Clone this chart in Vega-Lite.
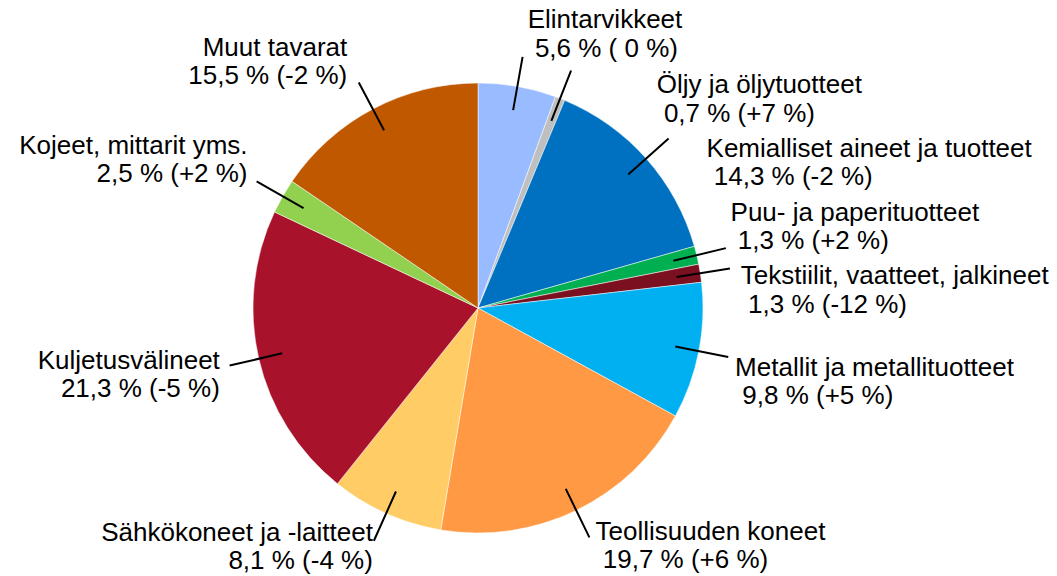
{
  "$schema": "https://vega.github.io/schema/vega-lite/v6.json",
  "width": 450,
  "height": 450,
  "autosize": {"type": "none"},
  "padding": {"left": 253, "top": 83, "right": 354, "bottom": 43},
  "background": "white",
  "config": {"view": {"stroke": null}, "text": {"fontSize": 26, "font": "Liberation Sans", "lineBreak": "\n", "lineHeight": 28.5, "color": "black", "baseline": "alphabetic"}},
  "data": {
    "values": [
      {"ord": 1, "cat": "Elintarvikkeet", "share": 5.6, "label": "Elintarvikkeet\n\u200b\u00a05,6 % ( 0 %)"},
      {"ord": 2, "cat": "Öljy ja öljytuotteet", "share": 0.7, "label": "Öljy ja öljytuotteet\n\u200b\u00a00,7 % (+7 %)"},
      {"ord": 3, "cat": "Kemialliset aineet ja tuotteet", "share": 14.3, "label": "Kemialliset aineet ja tuotteet\n\u200b\u00a014,3 % (-2 %)"},
      {"ord": 4, "cat": "Puu- ja paperituotteet", "share": 1.3, "label": "Puu- ja paperituotteet\n\u200b\u00a01,3 % (+2 %)"},
      {"ord": 5, "cat": "Tekstiilit, vaatteet, jalkineet", "share": 1.3, "label": "Tekstiilit, vaatteet, jalkineet\n\u200b\u00a01,3 % (-12 %)"},
      {"ord": 6, "cat": "Metallit ja metallituotteet", "share": 9.8, "label": "Metallit ja metallituotteet\n\u200b\u00a09,8 % (+5 %)"},
      {"ord": 7, "cat": "Teollisuuden koneet", "share": 19.7, "label": "Teollisuuden koneet\n\u200b\u00a019,7 % (+6 %)"},
      {"ord": 8, "cat": "Sähkökoneet ja -laitteet", "share": 8.1, "label": "Sähkökoneet ja -laitteet\n8,1 % (-4 %)"},
      {"ord": 9, "cat": "Kuljetusvälineet", "share": 21.3, "label": "Kuljetusvälineet\n21,3 % (-5 %)"},
      {"ord": 10, "cat": "Kojeet, mittarit yms.", "share": 2.5, "label": "Kojeet, mittarit yms.\n2,5 % (+2 %)"},
      {"ord": 11, "cat": "Muut tavarat", "share": 15.5, "label": "Muut tavarat\n15,5 % (-2 %)"}
    ]
  },
  "encoding": {
    "theta": {"field": "share", "type": "quantitative", "stack": true},
    "order": {"field": "ord", "type": "quantitative"}
  },
  "layer": [
    {
      "mark": {"type": "arc", "stroke": "white", "strokeWidth": 0.5},
      "encoding": {
        "color": {
          "field": "cat",
          "type": "nominal",
          "legend": null,
          "scale": {
            "domain": ["Elintarvikkeet", "Öljy ja öljytuotteet", "Kemialliset aineet ja tuotteet", "Puu- ja paperituotteet", "Tekstiilit, vaatteet, jalkineet", "Metallit ja metallituotteet", "Teollisuuden koneet", "Sähkökoneet ja -laitteet", "Kuljetusvälineet", "Kojeet, mittarit yms.", "Muut tavarat"],
            "range": ["#99BBFF", "#BFBFBF", "#0070C0", "#00B050", "#7B1020", "#00B0F0", "#FF9944", "#FFCC66", "#A8122B", "#92D050", "#C05800"]
          }
        }
      }
    },
    {
      "mark": {"type": "arc", "innerRadius": 201, "outerRadius": 255, "padAngle": 3, "stroke": "black", "strokeWidth": 2, "fill": "white", "fillOpacity": 0},
      "encoding": {"detail": {"field": "cat"}}
    },
    {
      "mark": {"type": "text", "radius": 284, "align": "left", "dx": 0, "dy": 0},
      "encoding": {"detail": {"field": "cat"}, "text": {"condition": {"test": "datum.ord === 1", "field": "label"}, "value": ""}}
    },
    {
      "mark": {"type": "text", "radius": 265, "align": "left", "dx": 82, "dy": 32},
      "encoding": {"detail": {"field": "cat"}, "text": {"condition": {"test": "datum.ord === 2", "field": "label"}, "value": ""}}
    },
    {
      "mark": {"type": "text", "radius": 271, "align": "left", "dx": 26, "dy": 29},
      "encoding": {"detail": {"field": "cat"}, "text": {"condition": {"test": "datum.ord === 3", "field": "label"}, "value": ""}}
    },
    {
      "mark": {"type": "text", "radius": 266, "align": "left", "dx": -6, "dy": -25},
      "encoding": {"detail": {"field": "cat"}, "text": {"condition": {"test": "datum.ord === 4", "field": "label"}, "value": ""}}
    },
    {
      "mark": {"type": "text", "radius": 263, "align": "left", "dx": 3, "dy": 17},
      "encoding": {"detail": {"field": "cat"}, "text": {"condition": {"test": "datum.ord === 5", "field": "label"}, "value": ""}}
    },
    {
      "mark": {"type": "text", "radius": 265, "align": "left", "dx": -3, "dy": 17},
      "encoding": {"detail": {"field": "cat"}, "text": {"condition": {"test": "datum.ord === 6", "field": "label"}, "value": ""}}
    },
    {
      "mark": {"type": "text", "radius": 260, "align": "left", "dx": 4, "dy": -2},
      "encoding": {"detail": {"field": "cat"}, "text": {"condition": {"test": "datum.ord === 7", "field": "label"}, "value": ""}}
    },
    {
      "mark": {"type": "text", "radius": 255, "align": "right", "dx": -1, "dy": 0},
      "encoding": {"detail": {"field": "cat"}, "text": {"condition": {"test": "datum.ord === 8", "field": "label"}, "value": ""}}
    },
    {
      "mark": {"type": "text", "radius": 265, "align": "right", "dx": 0, "dy": 1},
      "encoding": {"detail": {"field": "cat"}, "text": {"condition": {"test": "datum.ord === 9", "field": "label"}, "value": ""}}
    },
    {
      "mark": {"type": "text", "radius": 277, "align": "right", "dx": 10, "dy": -17},
      "encoding": {"detail": {"field": "cat"}, "text": {"condition": {"test": "datum.ord === 10", "field": "label"}, "value": ""}}
    },
    {
      "mark": {"type": "text", "radius": 284, "align": "right", "dx": 2, "dy": -1},
      "encoding": {"detail": {"field": "cat"}, "text": {"condition": {"test": "datum.ord === 11", "field": "label"}, "value": ""}}
    }
  ]
}
